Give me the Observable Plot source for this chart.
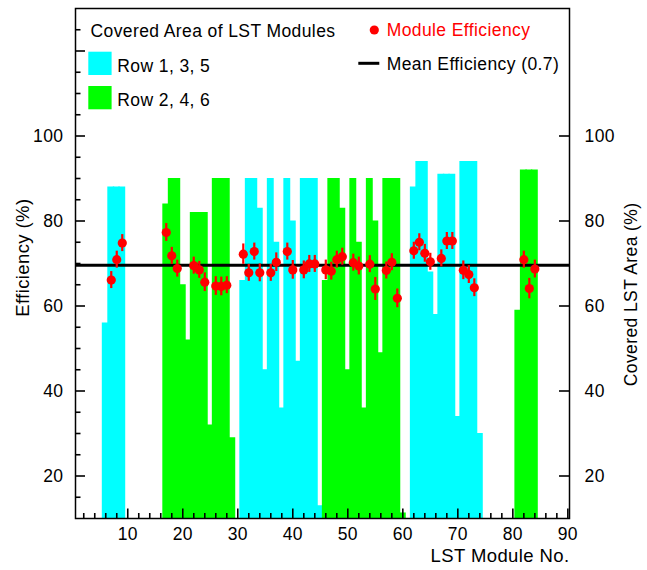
<!DOCTYPE html>
<html>
<head>
<meta charset="utf-8">
<script src="https://cdn.jsdelivr.net/npm/d3@7"></script>
<script src="https://cdn.jsdelivr.net/npm/@observablehq/plot@0.6"></script>
<style>
  html, body { margin: 0; padding: 0; background: #fff; overflow: hidden; }
  #chart svg { display: block; }
</style>
</head>
<body>
<div id="chart"></div>
<script>
// ---- Data ----
const row135Modules  = [6, 7, 8, 9, 31, 32, 33, 34, 35, 36, 37, 38, 39, 40, 41, 42, 43, 44, 45, 62, 63, 64, 65, 66, 67, 68, 69, 70, 71, 72, 73, 74];
const row135Coverage = [56, 88, 88, 88, 66, 90, 90, 83, 45, 90, 75, 36, 90, 80, 47, 90, 90, 90, 13, 88, 94, 94, 68, 58, 91, 91, 91, 34, 94, 94, 94, 30];

const row246Modules  = [17, 18, 19, 20, 21, 22, 23, 24, 25, 26, 27, 28, 29, 46, 47, 48, 49, 50, 51, 52, 53, 54, 55, 56, 57, 58, 59, 60, 81, 82, 83, 84];
const row246Coverage = [84, 90, 90, 65, 52, 82, 82, 82, 32, 90, 90, 90, 29, 66, 90, 90, 83, 45, 90, 75, 36, 90, 80, 49, 90, 90, 90, 11.3, 59, 92, 92, 92];

const effModules = [7, 8, 9, 17, 18, 19, 22, 23, 24, 26, 27, 28, 31, 32, 33, 34, 36, 37, 39, 40, 42, 43, 44, 46, 47, 48, 49, 51, 52, 54, 55, 57, 58, 59, 62, 63, 64, 65, 67, 68, 69, 71, 72, 73, 82, 83, 84];
const effValues  = [66.1, 70.9, 74.8, 77.3, 71.8, 68.8, 69.5, 68.5, 65.6, 64.7, 64.6, 64.9, 72.2, 67.8, 72.8, 67.8, 67.8, 70.3, 72.8, 68.5, 68.5, 69.9, 69.9, 68.5, 68.2, 70.9, 71.6, 70.2, 69.4, 69.85, 64.0, 68.35, 70.3, 61.8, 73.0, 75.0, 72.4, 70.4, 71.2, 75.3, 75.3, 68.4, 67.4, 64.3, 70.9, 64.1, 68.7];
const effErrors  = [2.0, 2.0, 2.0, 2.1, 2.0, 2.0, 2.0, 2.0, 2.2, 2.2, 2.2, 2.0, 2.4, 2.0, 2.0, 2.1, 2.0, 2.2, 2.0, 2.2, 2.1, 2.0, 2.0, 2.3, 2.1, 2.0, 2.0, 2.0, 2.1, 2.0, 2.7, 2.0, 2.0, 2.2, 2.0, 2.0, 2.1, 2.0, 2.0, 2.0, 2.0, 2.2, 2.1, 2.1, 2.0, 2.4, 2.1];

const meanEfficiency = 69.6;

const xMajorTicks = [10, 20, 30, 40, 50, 60, 70, 80, 90];
const xMinorTicks = [2, 4, 6, 8, 12, 14, 16, 18, 22, 24, 26, 28, 32, 34, 36, 38, 42, 44, 46, 48, 52, 54, 56, 58, 62, 64, 66, 68, 72, 74, 76, 78, 82, 84, 86, 88];
const yLeftMajorTicks = [20, 40, 60, 80, 100, 120];
const yLeftMinorTicks = [15, 25, 30, 35, 45, 50, 55, 65, 70, 75, 85, 90, 95, 105, 110, 115, 125];
const yLabelTicks = [20, 40, 60, 80, 100];

const xLabel = "LST Module No.";
const yLeftLabel = "Efficiency (%)";
const yRightLabel = "Covered LST Area (%)";
const legendTitle = "Covered Area of LST Modules";
const legendRow135 = "Row 1, 3, 5";
const legendRow246 = "Row 2, 4, 6";
const legendEff = "Module Efficiency";
const legendMean = "Mean Efficiency (0.7)";

// ---- Build tables ----
const bars135 = row135Modules.map((m, i) => ({m, c: row135Coverage[i]}));
const bars246 = row246Modules.map((m, i) => ({m, c: row246Coverage[i]}));
const points = effModules.map((m, i) => ({m, v: effValues[i], e: effErrors[i]}));

// ---- Layout ----
const W = 647, H = 570;
const mL = 75, mR = 78, mT = 8, mB = 52;
const xDomain = [0.5, 90.3];
const yDomain = [10, 130];
const pxPerX = (W - mL - mR) / (xDomain[1] - xDomain[0]);
const pxPerY = (H - mT - mB) / (yDomain[1] - yDomain[0]);
const FONT = "'Liberation Sans', Arial, Helvetica, sans-serif";
const FS = 17.5;
const FS_TITLE = 18.5;
const CYAN = "#00ffff", GREEN = "#00ff00", RED = "#ff0000";

const barOpts = (fill) => ({
  x1: d => d.m - 0.5, x2: d => d.m + 0.5,
  y1: yDomain[0], y2: "c",
  fill, insetLeft: -0.7, insetRight: -0.7
});

const plot = Plot.plot({
  width: W, height: H,
  marginLeft: mL, marginRight: mR, marginTop: mT, marginBottom: mB,
  style: {fontFamily: FONT, fontSize: FS + "px", letterSpacing: "0.4px", background: "#fff", color: "#000"},
  x: {domain: xDomain, axis: null},
  y: {domain: yDomain, axis: null},
  marks: [
    Plot.rect(bars135, barOpts(CYAN)),
    Plot.rect(bars246, barOpts(GREEN)),
    Plot.ruleY([meanEfficiency], {stroke: "#000", strokeWidth: 3}),
    Plot.ruleX(points, {x: "m", y1: d => d.v - d.e, y2: d => d.v + d.e, stroke: RED, strokeWidth: 2.2}),
    Plot.dot(points, {x: "m", y: "v", r: 4.6, fill: RED, stroke: "none"}),
    // bottom axis ticks (inward)
    Plot.ruleX(xMajorTicks, {x: d => d, y1: yDomain[0], y2: yDomain[0] + 9.5 / pxPerY, stroke: "#000", strokeWidth: 1.6}),
    Plot.ruleX(xMinorTicks, {x: d => d, y1: yDomain[0], y2: yDomain[0] + 5 / pxPerY, stroke: "#000", strokeWidth: 1.6}),
    // left axis ticks
    Plot.ruleY(yLeftMajorTicks, {y: d => d, x1: xDomain[0], x2: xDomain[0] + 10 / pxPerX, stroke: "#000", strokeWidth: 1.6}),
    Plot.ruleY(yLeftMinorTicks, {y: d => d, x1: xDomain[0], x2: xDomain[0] + 5.5 / pxPerX, stroke: "#000", strokeWidth: 1.6}),
    // right axis ticks
    Plot.ruleY(yLabelTicks, {y: d => d, x1: xDomain[1] - 10 / pxPerX, x2: xDomain[1], stroke: "#000", strokeWidth: 1.6}),
    Plot.frame({stroke: "#000", strokeWidth: 1.5}),
    // tick labels
    Plot.text(xMajorTicks, {x: d => d, y: yDomain[0], dy: 16, text: d => String(d), fontSize: FS, fill: "#000"}),
    Plot.text(yLabelTicks, {x: xDomain[0], y: d => d, dx: -12, textAnchor: "end", text: d => String(d), fontSize: FS, fill: "#000"}),
    Plot.text(yLabelTicks, {x: xDomain[1], y: d => d, dx: 15, textAnchor: "start", text: d => String(d), fontSize: FS, fill: "#000"}),
    // axis titles
    Plot.text([xLabel], {frameAnchor: "bottom-right", dy: 43, textAnchor: "end", text: d => d, fontSize: FS_TITLE, fill: "#000"}),
    Plot.text([yLeftLabel], {frameAnchor: "top-left", dx: -60, dy: 190, rotate: -90, textAnchor: "end", text: d => d, fontSize: FS_TITLE, fill: "#000"}),
    Plot.text([yRightLabel], {frameAnchor: "top-right", dx: 55, dy: 194, rotate: -90, textAnchor: "end", text: d => d, fontSize: FS, fill: "#000"})
  ]
});

// ---- Legend (inside the frame, top) ----
const svg = d3.select(plot);
const lg = svg.append("g")
  .attr("font-family", FONT)
  .attr("font-size", FS)
  .attr("text-anchor", "start")
  .style("letter-spacing", "0.4px");
lg.append("text").attr("x", 90.5).attr("y", 36.5).attr("fill", "#000").text(legendTitle);
lg.append("rect").attr("x", 88.3).attr("y", 51.7).attr("width", 23.3).attr("height", 23.3).attr("fill", CYAN);
lg.append("text").attr("x", 117.3).attr("y", 71.5).attr("fill", "#000").text(legendRow135);
lg.append("rect").attr("x", 88.3).attr("y", 86).attr("width", 23.3).attr("height", 23.3).attr("fill", GREEN);
lg.append("text").attr("x", 117.3).attr("y", 106).attr("fill", "#000").text(legendRow246);
lg.append("circle").attr("cx", 374.3).attr("cy", 30).attr("r", 4.6).attr("fill", RED);
lg.append("text").attr("x", 386.7).attr("y", 36.3).attr("fill", RED).text(legendEff);
lg.append("line").attr("x1", 358.3).attr("x2", 379.3).attr("y1", 63.3).attr("y2", 63.3).attr("stroke", "#000").attr("stroke-width", 3);
lg.append("text").attr("x", 386.7).attr("y", 70).attr("fill", "#000").text(legendMean);

document.getElementById("chart").appendChild(plot);
</script>
</body>
</html>
